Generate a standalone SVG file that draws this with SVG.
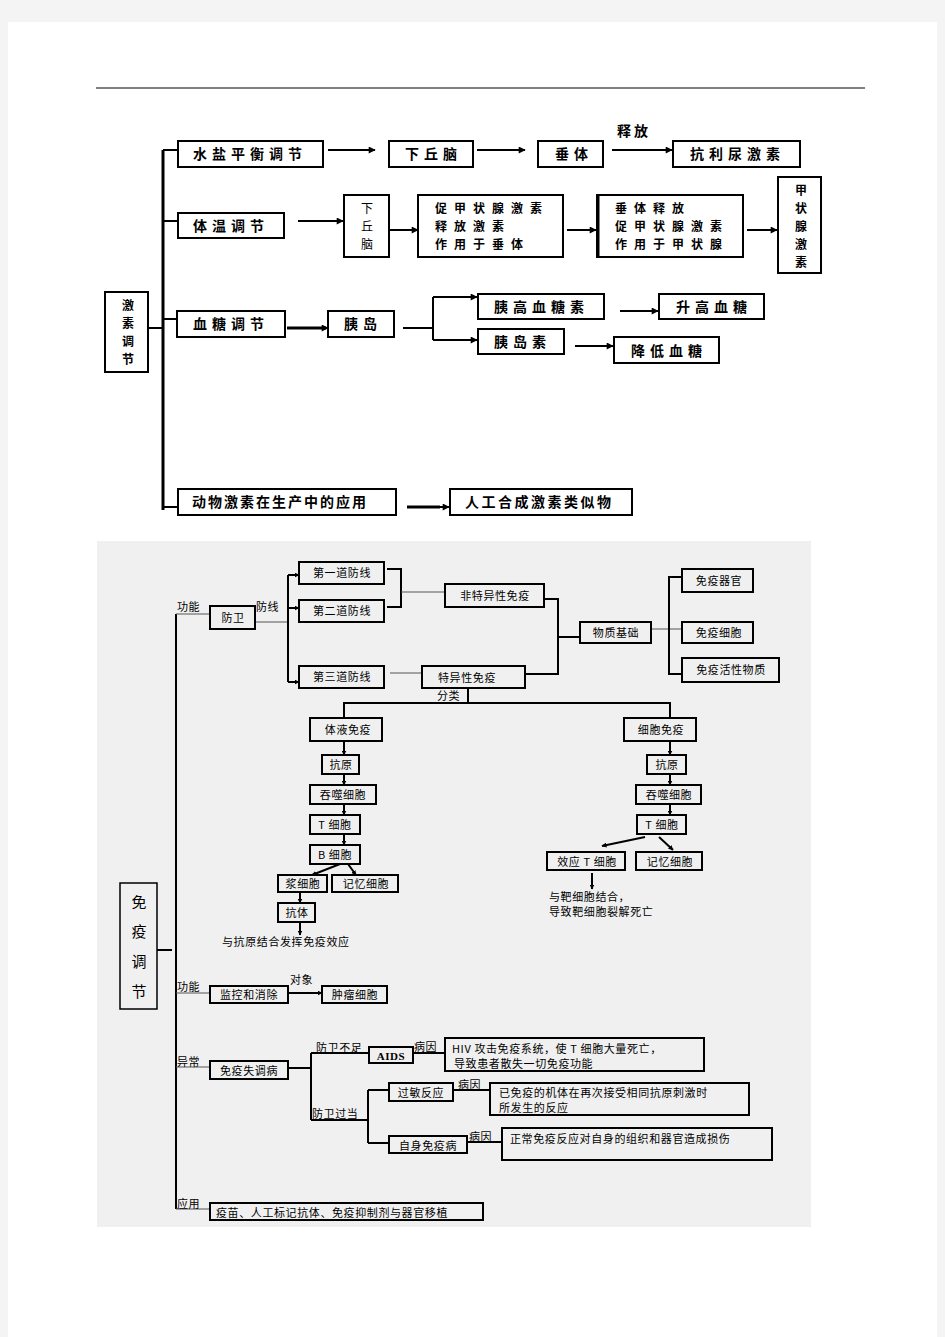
<svg xmlns="http://www.w3.org/2000/svg" width="945" height="1337" viewBox="0 0 945 1337">
<defs>
<marker id="ah" viewBox="0 0 10 10" refX="9" refY="5" markerWidth="5" markerHeight="5" orient="auto" markerUnits="userSpaceOnUse">
<path d="M0,0 L10,5 L0,10 z" fill="#000"/>
</marker>
<marker id="as" viewBox="0 0 10 10" refX="9" refY="5" markerWidth="8" markerHeight="7" orient="auto" markerUnits="userSpaceOnUse">
<path d="M0,0 L10,5 L0,10 z" fill="#000"/>
</marker>
<style>
.t{font-family:"Noto Sans CJK SC","Liberation Serif",serif;font-size:14px;font-weight:bold;letter-spacing:5px;fill:#000}
.m{font-size:12px;letter-spacing:7px}
.v{font-size:12px;letter-spacing:0}
.tm{text-anchor:middle}
.b{fill:#fff;stroke:#000;stroke-width:2}
.s{font-family:"Noto Sans CJK SC","Liberation Serif",serif;font-size:11px;letter-spacing:0.6px;fill:#000}
.bb{fill:#f0f0f0;stroke:#000;stroke-width:2}
.l{fill:none;stroke:#000;stroke-width:2}
.lt{fill:none;stroke:#000;stroke-width:3}
.lg{fill:none;stroke:#555;stroke-width:1}
.a{fill:none;stroke:#000;stroke-width:2;marker-end:url(#as)}
.a2{fill:none;stroke:#000;stroke-width:2;marker-end:url(#ah)}
</style>
</defs>
<rect x="0" y="0" width="945" height="1337" fill="#f4f4f4"/>
<rect x="8" y="22" width="929" height="1315" fill="#fff"/>
<line x1="96" y1="88" x2="865" y2="88" stroke="#000" stroke-width="1"/>

<!-- TOP DIAGRAM -->
<g id="top-connectors">
<path class="lt" d="M163,150 V510"/>
<path class="l" d="M163,150 H178 M163,221 H178 M163,319 H178 M163,507 H178 M148,328 H163"/>
<path class="a" d="M328,150 H375"/>
<path class="a" d="M477,150 H525"/>
<path class="a" d="M612,150 H672"/>
<path class="a" d="M298,221 H343"/>
<path class="a" d="M389,230 H418"/>
<path class="a" d="M567,230 H596"/>
<path class="a" d="M747,230 H777"/>
<path class="lt" d="M287,328 H326"/>
<path class="a" d="M315,328 H328"/>
<path class="l" d="M403,328 H433 M433,297 V340"/>
<path class="a" d="M433,297 H477"/>
<path class="a" d="M433,340 H477"/>
<path class="a" d="M620,311 H658"/>
<path class="a" d="M575,346 H613"/>
<path class="lt" d="M407,507 H440"/>
<path class="a" d="M430,507 H449"/>
</g>
<text class="t" x="617" y="136" style="letter-spacing:3px">释放</text>

<g id="n-jisu"><rect class="b" x="105" y="292" width="43" height="80"/>
<text class="t tm v" x="128" y="310">激</text><text class="t tm v" x="128" y="328">素</text><text class="t tm v" x="128" y="346">调</text><text class="t tm v" x="128" y="364">节</text></g>

<g id="n-shuiyan"><rect class="b" x="178" y="141" width="145" height="26"/><text class="t" x="193" y="159">水盐平衡调节</text></g>
<g id="n-xqn1"><rect class="b" x="389" y="141" width="84" height="26"/><text class="t" x="405" y="159">下丘脑</text></g>
<g id="n-cuiti1"><rect class="b" x="538" y="141" width="65" height="26"/><text class="t" x="555" y="159">垂体</text></g>
<g id="n-kln"><rect class="b" x="673" y="141" width="127" height="26"/><text class="t" x="690" y="159">抗利尿激素</text></g>

<g id="n-tiwen"><rect class="b" x="178" y="213" width="106" height="25"/><text class="t" x="193" y="231">体温调节</text></g>
<g id="n-xqn2"><rect class="b" x="344" y="195" width="45" height="62"/>
<text class="t tm v" x="367" y="213" style="font-weight:normal">下</text><text class="t tm v" x="367" y="231" style="font-weight:normal">丘</text><text class="t tm v" x="367" y="249" style="font-weight:normal">脑</text></g>
<g id="n-cujia1"><rect class="b" x="418" y="195" width="145" height="62"/>
<text class="t m" x="435" y="213">促甲状腺激素</text><text class="t m" x="435" y="231">释放激素</text><text class="t m" x="435" y="249">作用于垂体</text></g>
<g id="n-cujia2"><rect class="b" x="597" y="195" width="146" height="62"/><line x1="598" y1="195" x2="598" y2="257" stroke="#000" stroke-width="3"/>
<text class="t m" x="615" y="213">垂体释放</text><text class="t m" x="615" y="231">促甲状腺激素</text><text class="t m" x="615" y="249">作用于甲状腺</text></g>
<g id="n-jiazhuang"><rect class="b" x="778" y="177" width="43" height="96"/>
<text class="t tm v" x="801" y="195">甲</text><text class="t tm v" x="801" y="213">状</text><text class="t tm v" x="801" y="231">腺</text><text class="t tm v" x="801" y="249">激</text><text class="t tm v" x="801" y="267">素</text></g>

<g id="n-xuetang"><rect class="b" x="177" y="311" width="108" height="26"/><text class="t" x="193" y="329">血糖调节</text></g>
<g id="n-yidao"><rect class="b" x="328" y="311" width="66" height="26"/><text class="t" x="344" y="329">胰岛</text></g>
<g id="n-ygxts"><rect class="b" x="478" y="294" width="126" height="25"/><text class="t" x="494" y="312">胰高血糖素</text></g>
<g id="n-shenggao"><rect class="b" x="659" y="294" width="105" height="25"/><text class="t" x="676" y="312">升高血糖</text></g>
<g id="n-ydsu"><rect class="b" x="478" y="329" width="86" height="25"/><text class="t" x="494" y="347">胰岛素</text></g>
<g id="n-jiangdi"><rect class="b" x="614" y="337" width="105" height="26"/><text class="t" x="631" y="356">降低血糖</text></g>

<g id="n-dongwu"><rect class="b" x="178" y="489" width="218" height="26"/><text class="t" x="192" y="507" style="letter-spacing:2px">动物激素在生产中的应用</text></g>
<g id="n-rengong"><rect class="b" x="450" y="489" width="182" height="26"/><text class="t" x="465" y="507" style="letter-spacing:2.5px">人工合成激素类似物</text></g>

<!-- BOTTOM DIAGRAM -->
<rect x="97" y="541" width="714" height="686" fill="#f0f0f0"/>
<g id="bottom-connectors">
<path class="l" d="M176,614 V1209"/>
<path class="lg" d="M176,614 H210 M176,993 H210 M176,1067 H210 M176,1209 H210"/>
<path class="l" d="M157,950 H172"/>
<path class="lg" d="M255,622 H288"/>
<path class="l" d="M288,575 V682"/>
<path class="a2" d="M288,575 H299"/>
<path class="a2" d="M288,608 H299"/>
<path class="a2" d="M288,682 H299"/>
<path class="l" d="M387,569 H401 V607 H387"/>
<path class="lg" d="M401,592 H445"/>
<path class="lg" d="M390,673 H422"/>
<path class="l" d="M544,599 H558 V674 H525"/>
<path class="l" d="M558,637 H580"/>
<path class="lg" d="M651,629 H682"/>
<path class="l" d="M682,577 H669 V674 H682"/>
<path class="l" d="M468,688 V703 M344,718 V703 H670 V718"/>
<path class="a2" d="M344,741 V755"/>
<path class="a2" d="M344,774 V785"/>
<path class="a2" d="M344,804 V815"/>
<path class="a2" d="M344,834 V845"/>
<path class="a2" d="M340,864 L312,875"/>
<path class="a2" d="M348,864 L356,875"/>
<path class="a2" d="M300,892 V903"/>
<path class="a2" d="M300,922 V935"/>
<path class="a2" d="M670,741 V755"/>
<path class="a2" d="M670,774 V785"/>
<path class="a2" d="M670,804 V815"/>
<path class="a2" d="M645,837 L602,846"/>
<path class="a2" d="M659,837 L673,850"/>
<path class="a2" d="M592,873 V889"/>
<path class="a2" d="M288,993 H322"/>
<path class="l" d="M288,1068 H311 M311,1053 V1120 M311,1053 H369 M311,1120 H368 M368,1090 V1143 M368,1090 H389 M368,1143 H389"/>
<path class="l" d="M413,1053 H445 M453,1090 H490 M467,1142 H502"/>
</g>
<text class="s" x="177" y="611">功能</text>
<text class="s" x="256" y="611">防线</text>
<text class="s" x="437" y="700">分类</text>
<text class="s" x="177" y="991">功能</text>
<text class="s" x="290" y="984">对象</text>
<text class="s" x="177" y="1066">异常</text>
<text class="s" x="316" y="1052">防卫不足</text>
<text class="s" x="414" y="1051">病因</text>
<text class="s" x="312" y="1118">防卫过当</text>
<text class="s" x="458" y="1089">病因</text>
<text class="s" x="469" y="1141">病因</text>
<text class="s" x="177" y="1208">应用</text>
<text class="s" x="222" y="946">与抗原结合发挥免疫效应</text>
<text class="s" x="549" y="901">与靶细胞结合，</text>
<text class="s" x="549" y="916">导致靶细胞裂解死亡</text>

<g id="n-mianyi"><rect class="bb" x="120" y="883" width="37" height="126" style="stroke-width:1.5"/>
<text class="s tm" x="139" y="908" style="font-size:15px;letter-spacing:0">免</text><text class="s tm" x="139" y="937" style="font-size:15px;letter-spacing:0">疫</text><text class="s tm" x="139" y="967" style="font-size:15px;letter-spacing:0">调</text><text class="s tm" x="139" y="997" style="font-size:15px;letter-spacing:0">节</text></g>
<g id="n-fangwei"><rect class="bb" x="210" y="606" width="45" height="23"/><text class="s tm" x="233" y="622">防卫</text></g>
<g id="n-d1"><rect class="bb" x="299" y="562" width="85" height="22"/><text class="s tm" x="342" y="577">第一道防线</text></g>
<g id="n-d2"><rect class="bb" x="299" y="600" width="85" height="22"/><text class="s tm" x="342" y="615">第二道防线</text></g>
<g id="n-d3"><rect class="bb" x="299" y="666" width="85" height="22"/><text class="s tm" x="342" y="681">第三道防线</text></g>
<g id="n-fts"><rect class="bb" x="445" y="584" width="99" height="23"/><text class="s tm" x="495" y="600">非特异性免疫</text></g>
<g id="n-ts"><rect class="bb" x="422" y="666" width="103" height="22"/><text class="s tm" x="467" y="682">特异性免疫</text></g>
<g id="n-wzjc"><rect class="bb" x="580" y="622" width="71" height="21"/><text class="s tm" x="616" y="637">物质基础</text></g>
<g id="n-myqg"><rect class="bb" x="682" y="569" width="71" height="23"/><text class="s tm" x="719" y="585">免疫器官</text></g>
<g id="n-myxb"><rect class="bb" x="682" y="622" width="71" height="21"/><text class="s tm" x="719" y="637">免疫细胞</text></g>
<g id="n-myhx"><rect class="bb" x="682" y="658" width="97" height="24"/><text class="s tm" x="731" y="674">免疫活性物质</text></g>

<g id="n-tiye"><rect class="bb" x="310" y="718" width="72" height="23"/><text class="s tm" x="348" y="734">体液免疫</text></g>
<g id="n-ky1"><rect class="bb" x="322" y="755" width="37" height="19"/><text class="s tm" x="341" y="769">抗原</text></g>
<g id="n-ts1"><rect class="bb" x="310" y="785" width="66" height="19"/><text class="s tm" x="343" y="799">吞噬细胞</text></g>
<g id="n-t1"><rect class="bb" x="310" y="815" width="50" height="19"/><text class="s tm" x="335" y="829">T 细胞</text></g>
<g id="n-b1"><rect class="bb" x="310" y="845" width="50" height="19"/><text class="s tm" x="335" y="859">B 细胞</text></g>
<g id="n-jiang"><rect class="bb" x="278" y="875" width="49" height="17"/><text class="s tm" x="303" y="888">浆细胞</text></g>
<g id="n-jy1"><rect class="bb" x="332" y="875" width="66" height="17"/><text class="s tm" x="366" y="888">记忆细胞</text></g>
<g id="n-kt"><rect class="bb" x="278" y="903" width="37" height="19"/><text class="s tm" x="297" y="917">抗体</text></g>

<g id="n-xibao"><rect class="bb" x="624" y="718" width="72" height="23"/><text class="s tm" x="661" y="734">细胞免疫</text></g>
<g id="n-ky2"><rect class="bb" x="647" y="755" width="39" height="19"/><text class="s tm" x="667" y="769">抗原</text></g>
<g id="n-ts2"><rect class="bb" x="636" y="785" width="65" height="19"/><text class="s tm" x="669" y="799">吞噬细胞</text></g>
<g id="n-t2"><rect class="bb" x="637" y="815" width="49" height="19"/><text class="s tm" x="662" y="829">T 细胞</text></g>
<g id="n-xy"><rect class="bb" x="547" y="852" width="78" height="18"/><text class="s tm" x="587" y="866">效应 T 细胞</text></g>
<g id="n-jy2"><rect class="bb" x="636" y="852" width="66" height="18"/><text class="s tm" x="670" y="866">记忆细胞</text></g>

<g id="n-jk"><rect class="bb" x="210" y="986" width="78" height="17"/><text class="s tm" x="249" y="999">监控和消除</text></g>
<g id="n-zl"><rect class="bb" x="322" y="986" width="65" height="17"/><text class="s tm" x="355" y="999">肿瘤细胞</text></g>
<g id="n-sd"><rect class="bb" x="210" y="1061" width="78" height="18"/><text class="s tm" x="249" y="1075">免疫失调病</text></g>
<g id="n-aids"><rect class="bb" x="369" y="1047" width="44" height="16"/><text class="s tm" x="391" y="1060" style="font-family:'Liberation Serif',serif;font-weight:bold">AIDS</text></g>
<g id="n-hiv"><rect class="bb" x="445" y="1038" width="259" height="33"/><text class="s" x="452" y="1053">HIV 攻击免疫系统，使 T 细胞大量死亡，</text><text class="s" x="454" y="1068">导致患者散失一切免疫功能</text></g>
<g id="n-gm"><rect class="bb" x="389" y="1083" width="64" height="18"/><text class="s tm" x="421" y="1097">过敏反应</text></g>
<g id="n-gmyy"><rect class="bb" x="490" y="1083" width="259" height="32"/><text class="s" x="499" y="1097">已免疫的机体在再次接受相同抗原刺激时</text><text class="s" x="499" y="1112">所发生的反应</text></g>
<g id="n-zs"><rect class="bb" x="389" y="1136" width="78" height="17"/><text class="s tm" x="428" y="1150">自身免疫病</text></g>
<g id="n-zsyy"><rect class="bb" x="502" y="1128" width="270" height="32"/><text class="s" x="510" y="1143">正常免疫反应对自身的组织和器官造成损伤</text></g>
<g id="n-yy"><rect class="bb" x="210" y="1203" width="273" height="17"/><text class="s" x="216" y="1217">疫苗、人工标记抗体、免疫抑制剂与器官移植</text></g>
</svg>
